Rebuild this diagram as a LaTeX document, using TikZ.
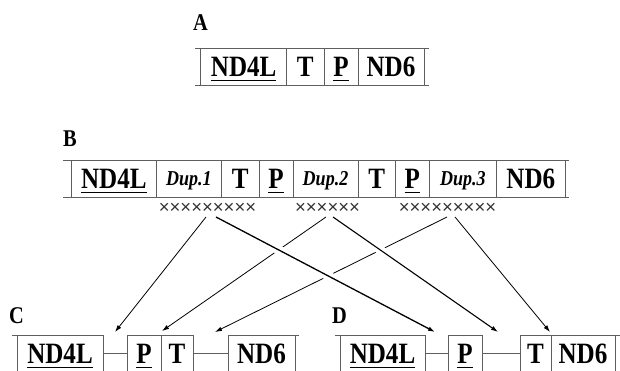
\documentclass[tikz,border=0pt]{standalone}
\usepackage{fontspec}
\setmainfont{Liberation Serif}
\newfontfamily\cellfont[FakeStretch=0.85]{Liberation Serif}
\newfontfamily\crossfont{Liberation Sans}
\usetikzlibrary{arrows.meta}
\definecolor{boxgray}{RGB}{95,95,95}
\definecolor{crossgray}{RGB}{50,50,50}
\newcommand\myul[1]{\setbox0=\hbox{#1}\rlap{\smash{\rule[-5pt]{\wd0}{1.7pt}}}\box0}
\begin{document}
\begin{tikzpicture}[x=1pt,y=-1pt,
  boxline/.style={draw=boxgray, line width=0.9pt},
  cell/.style={boxline, rectangle, inner sep=0pt, outer sep=0pt, minimum height=37pt,
    anchor=west, text height=19.5pt, text depth=0pt,
    font=\cellfont\fontsize{29.5}{29.5}\selectfont\bfseries},
  dupcell/.style={cell, text height=14pt, font=\cellfont\fontsize{21.2}{21.2}\selectfont\bfseries\itshape},
  rowlabel/.style={inner sep=0pt, font=\cellfont\fontsize{24}{24}\selectfont\bfseries},
  crosses/.style={inner sep=0pt, text=crossgray, font=\crossfont\fontsize{18.5}{18.5}\selectfont},
  thinarr/.style={-{Latex[length=7pt,width=4.5pt]}, line width=0.8pt, black},
  thickarr/.style={-{Latex[length=7pt,width=4.5pt]}, line width=1.3pt, black},
  halo/.style={white, line width=9pt, shorten <=9pt, shorten >=12pt}
]
\useasboundingbox (0,0) rectangle (620,370);

% ---------- A ----------
\node[rowlabel] (la) at (200.5,22.5) {A};
\node[cell, minimum width=86pt] (a1) at (200.7,66.5) {\myul{ND4L}};
\node[cell, minimum width=37.3pt] (a2) at (a1.east) {T};
\node[cell, minimum width=34pt] (a3) at (a2.east) {\myul{P}};
\node[cell, minimum width=66pt] (a4) at (a3.east) {ND6};
\draw[boxline] ([xshift=-5.7pt]a1.north west) -- (a1.north west);
\draw[boxline] ([xshift=-5.7pt]a1.south west) -- (a1.south west);
\draw[boxline] (a4.north east) -- ([xshift=5pt]a4.north east);
\draw[boxline] (a4.south east) -- ([xshift=5pt]a4.south east);

% ---------- B ----------
\node[rowlabel] (lb) at (70,138.5) {B};
\node[cell, minimum width=84.3pt] (b1) at (71.7,178.5) {\myul{ND4L}};
\node[dupcell, minimum width=65.7pt] (b2) at (b1.east) {Dup.1};
\node[cell, minimum width=37.3pt] (b3) at (b2.east) {T};
\node[cell, minimum width=34pt] (b4) at (b3.east) {\myul{P}};
\node[dupcell, minimum width=65pt] (b5) at (b4.east) {Dup.2};
\node[cell, minimum width=37.7pt] (b6) at (b5.east) {T};
\node[cell, minimum width=33.3pt] (b7) at (b6.east) {\myul{P}};
\node[dupcell, minimum width=67.7pt] (b8) at (b7.east) {Dup.3};
\node[cell, minimum width=68.3pt] (b9) at (b8.east) {ND6};
\draw[boxline] ([xshift=-8.7pt]b1.north west) -- (b1.north west);
\draw[boxline] ([xshift=-8.7pt]b1.south west) -- (b1.south west);
\draw[boxline] (b9.north east) -- ([xshift=4pt]b9.north east);
\draw[boxline] (b9.south east) -- ([xshift=4pt]b9.south east);

\node[crosses] (g1) at (207.5,208) {×××××××××};
\node[crosses] (g2) at (327.5,208) {××××××};
\node[crosses] (g3) at (447.5,208) {×××××××××};

% ---------- C ----------
\node[rowlabel] (lc) at (16.5,315.5) {C};
\node[cell, minimum width=86pt] (c1) at (17,353.5) {\myul{ND4L}};
\node[cell, minimum width=34pt] (c2) at (127,353.5) {\myul{P}};
\node[cell, minimum width=32pt] (c3) at (c2.east) {T};
\node[cell, minimum width=67pt] (c4) at (228,353.5) {ND6};
\draw[boxline] ([xshift=-5pt]c1.north west) -- (c1.north west);
\draw[boxline] (c4.north east) -- ([xshift=4pt]c4.north east);
\draw[boxline] (c1) -- (c2);
\draw[boxline] (c3) -- (c4);

% ---------- D ----------
\node[rowlabel] (ld) at (339.5,315.5) {D};
\node[cell, minimum width=85pt] (d1) at (340,353.5) {\myul{ND4L}};
\node[cell, minimum width=34pt] (d2) at (448,353.5) {\myul{P}};
\node[cell, minimum width=31pt] (d3) at (520,353.5) {T};
\node[cell, minimum width=64pt] (d4) at (d3.east) {ND6};
\draw[boxline] ([xshift=-5pt]d1.north west) -- (d1.north west);
\draw[boxline] (d4.north east) -- ([xshift=5pt]d4.north east);
\draw[boxline] (d1) -- (d2);
\draw[boxline] (d2) -- (d3);

% ---------- arrows ----------
\coordinate (s1) at (206,217);
\coordinate (s2) at (216,217);
\coordinate (s3) at (326,217);
\coordinate (s4) at (333,217);
\coordinate (s5) at (447,217);
\coordinate (s6) at (455,217);
\coordinate (e1) at (115,332);
\coordinate (e3) at (162,331);
\coordinate (e5) at (215,332);
\coordinate (e2) at (435,332);
\coordinate (e4) at (498,332);
\coordinate (e6) at (550,332);

\draw[thinarr] (s1) -- (e1);
\draw[thinarr] (s3) -- (e3);
\draw[thinarr] (s5) -- (e5);
\draw[thinarr] (s6) -- (e6);
\draw[halo] (s4) -- (e4);
\draw[thickarr, line width=1.1pt] (s4) -- (e4);
\draw[halo] (s2) -- (e2);
\draw[thickarr] (s2) -- (e2);
\end{tikzpicture}
\end{document}
